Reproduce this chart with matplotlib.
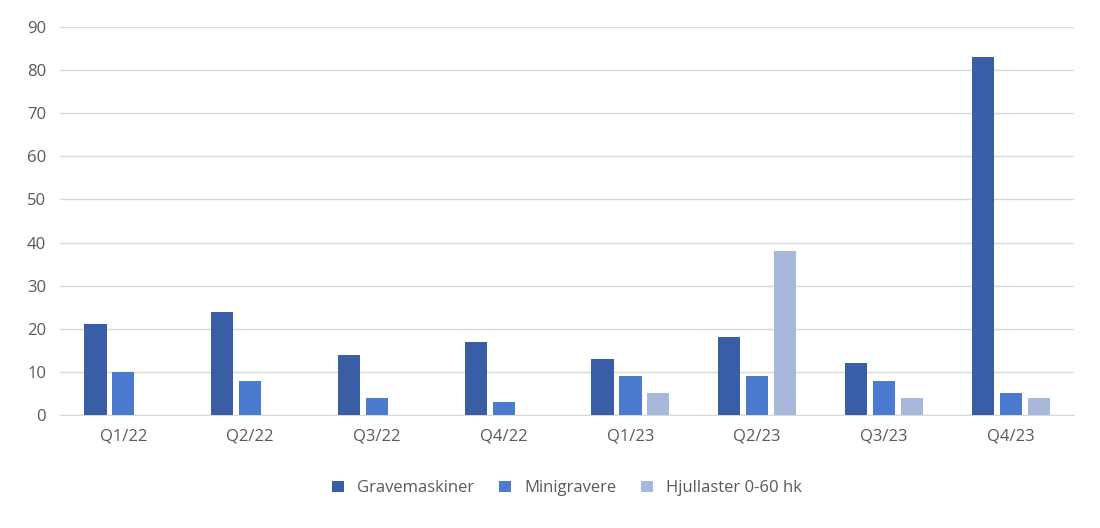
import matplotlib
matplotlib.use("Agg")
import matplotlib.pyplot as plt
import numpy as np

plt.rcParams['font.family'] = ['Open Sans', 'DejaVu Sans']

categories = ["Q1/22", "Q2/22", "Q3/22", "Q4/22", "Q1/23", "Q2/23", "Q3/23", "Q4/23"]
gravemaskiner = [21, 24, 14, 17, 13, 18, 12, 83]
minigravere = [10, 8, 4, 3, 9, 9, 8, 5]
hjullaster = [0, 0, 0, 0, 5, 38, 4, 4]
series_names = ["Gravemaskiner", "Minigravere", "Hjullaster 0-60 hk"]
colors = ["#3a5ea6", "#4a7bcf", "#a8b8dd"]

fig = plt.figure(figsize=(11, 5.28), dpi=100)
ax = fig.add_axes([0.0545, 0.214, 0.922, 0.735])
x = np.arange(len(categories))
w = 0.175
off = 0.22
for i, (vals, name, c) in enumerate(zip([gravemaskiner, minigravere, hjullaster], series_names, colors)):
    ax.bar(x + (i - 1) * off, vals, width=w, color=c, label=name, zorder=3)

ax.set_xlim(-0.5, len(categories) - 0.5)
ax.set_ylim(0, 90)
ax.set_yticks(range(0, 91, 10))
ax.set_xticks(x)
ax.set_xticklabels(categories)
ax.grid(axis='y', color='#d9d9d9', linewidth=1, zorder=0)
for s in ['top', 'right', 'left']:
    ax.spines[s].set_visible(False)
ax.spines['bottom'].set_color('#d9d9d9')
ax.tick_params(axis='both', length=0, labelsize=12, colors='#595959', pad=10)
ax.legend(loc='upper center', bbox_to_anchor=(0.5, -0.13), ncol=3, frameon=False,
          fontsize=12, labelcolor='#595959', handlelength=0.7, handleheight=0.7, columnspacing=1.5)
fig.savefig("out.png", dpi=100)
